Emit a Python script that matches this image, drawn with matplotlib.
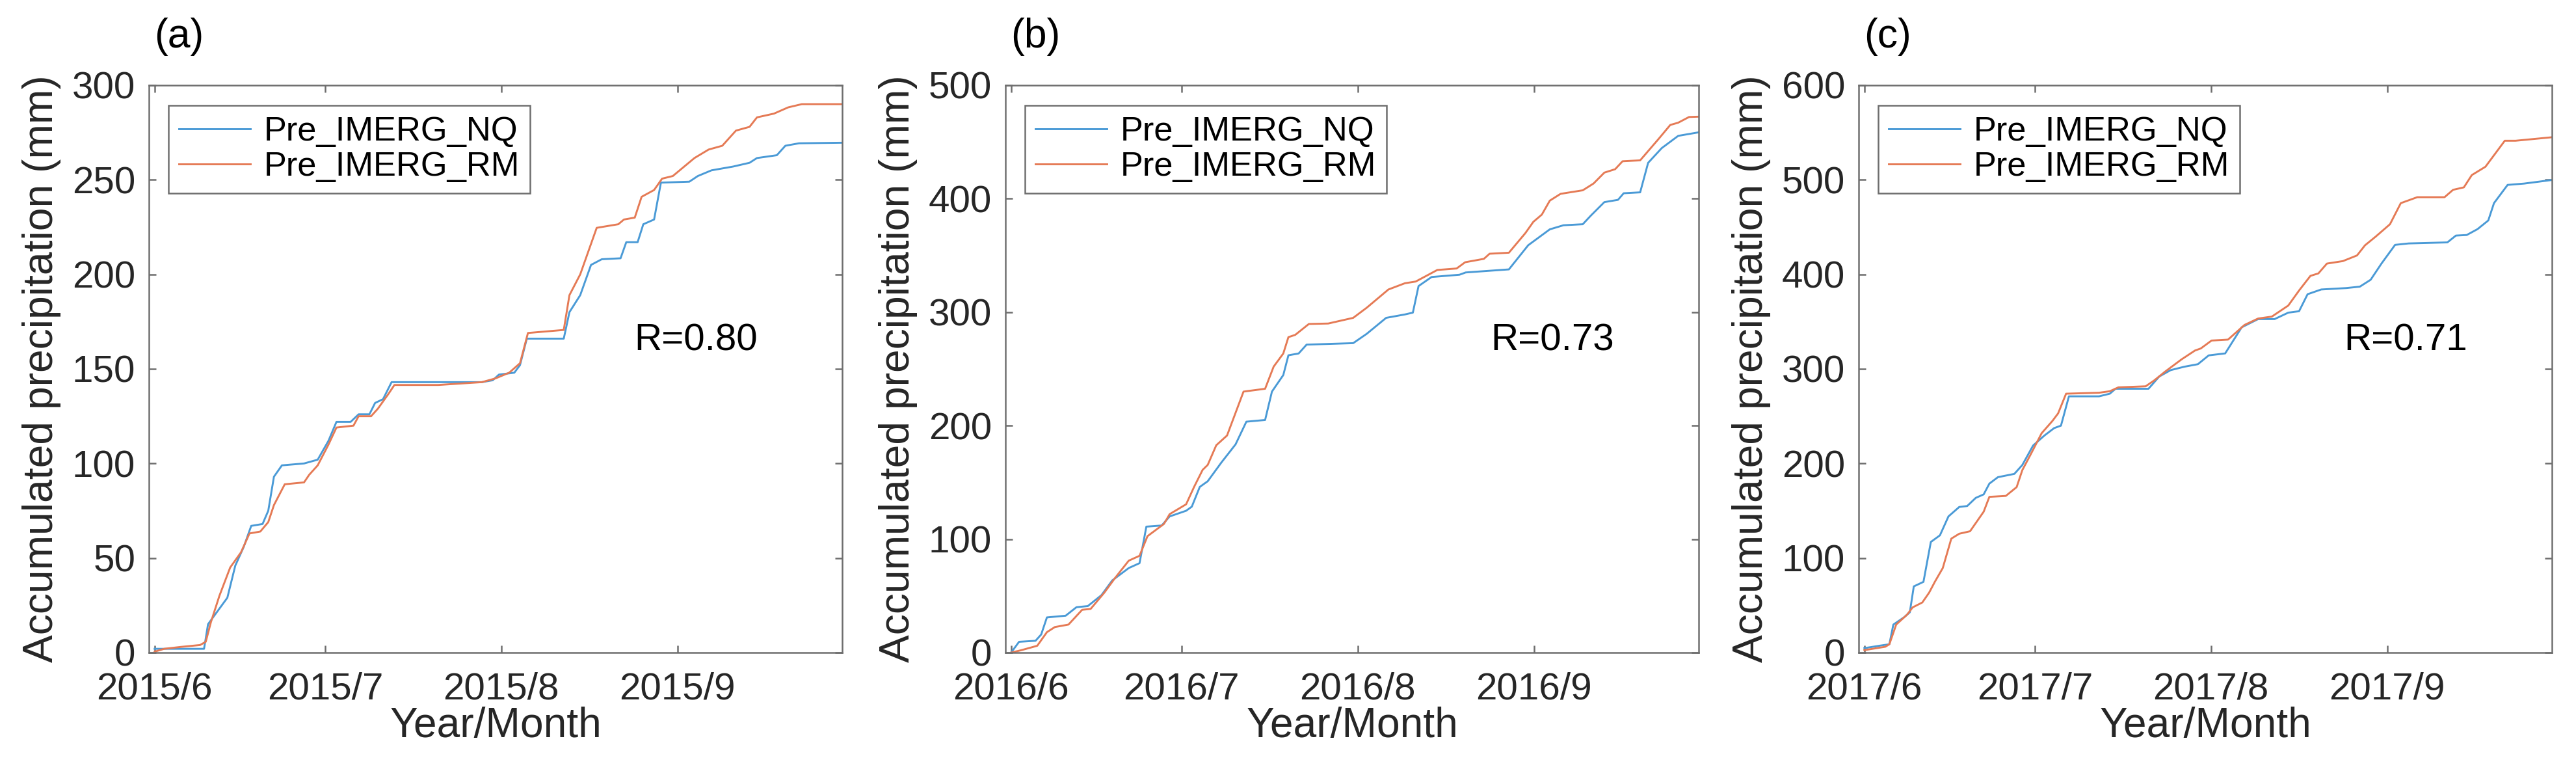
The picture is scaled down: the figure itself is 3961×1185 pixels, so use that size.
import numpy as np
import pandas as pd
import matplotlib
matplotlib.use("Agg")
import matplotlib.pyplot as plt

plt.rcParams['font.family'] = ['Liberation Sans', 'DejaVu Sans']

# day offsets from June 1 and accumulated precipitation (mm)
years = [2015, 2016, 2017]
panel_tags = ['(a)', '(b)', '(c)']
r_text = ['R=0.80', 'R=0.73', 'R=0.71']
y_max = [300, 500, 600]
y_step = [50, 100, 100]

nq_days_2015 = [0, 8.7, 9.4, 12.8, 14.2, 15.7, 17, 19, 20, 21, 22.4, 26.3, 28.7, 30.6, 32, 34.5, 35.9,
                37.8, 38.8, 40.2, 41.7, 49.9, 57.6, 59.5, 60.6, 63.3, 64.3, 65.5, 72, 73, 74.9, 76.8,
                78.7, 82, 83, 85, 86, 87.9, 89.1, 94.1, 95.6, 98, 101.8, 104.7, 106, 109.5, 111, 113.4, 121]
nq_vals_2015 = [2, 2, 15, 29, 46, 56, 67, 68, 75, 93, 99, 100, 102, 112, 122, 122, 126,
                126, 132, 134, 143, 143, 143, 144, 147, 148, 152, 166, 166, 180, 189, 205,
                208, 208.5, 217, 217, 226.5, 229, 248.5, 249, 252, 255, 257, 259, 261.5, 263, 268, 269.3, 269.6]
rm_days_2015 = [0, 1.7, 4.6, 8, 9, 9.9, 11.4, 13.3, 15.2, 16.7, 18.6, 20, 21, 22.9, 26.3, 27.2, 28.7,
                30.6, 32, 35, 35.9, 38.1, 39.3, 41.2, 42.2, 49.9, 57.6, 60, 62.4, 64.3, 65.7, 72, 73,
                74.9, 77.8, 81.6, 82.6, 84.5, 85.7, 87.9, 89.3, 91.2, 95, 97.5, 99.9, 102.3, 104.7,
                106, 109, 111.5, 113.9, 121]
rm_vals_2015 = [0.5, 2, 3, 4, 5.7, 16, 30, 45, 53, 63, 64, 69, 78, 89, 90, 94, 99,
                110, 119, 120, 125, 125, 129, 137, 141.5, 141.5, 143, 145, 148, 153, 169, 170.6, 189,
                200, 224.6, 226.5, 229, 230, 241, 244.6, 250.6, 252, 261.5, 266, 268, 276, 278,
                283, 285, 288.3, 290, 290]

nq_days_2016 = [0, 1.4, 4.3, 5.3, 6.3, 9.6, 11.5, 13.5, 15.9, 17.8, 20.7, 22.6, 23.8, 26.5, 27.9, 30.8,
                31.8, 33.2, 34.6, 37, 39.5, 41.4, 44.7, 45.9, 47.9, 48.8, 50.6, 52, 60.2, 62.6, 66,
                69.3, 70.7, 71.7, 74, 78.9, 80, 87.6, 91, 94.8, 97.2, 100.6, 102, 104.4, 106.8, 107.8,
                110.7, 112.1, 114.5, 117.4, 121]
nq_vals_2016 = [0, 9.5, 10.4, 16, 31, 32.5, 40, 41, 50.6, 63.6, 74.5, 78.8, 111, 112, 120, 125,
                128.6, 146, 151, 167.5, 183.5, 203.5, 205, 230, 244.6, 262, 263.6, 271.4, 272.7, 281, 295,
                298, 299.6, 323, 331, 333, 335, 337.7, 359, 373, 376.6, 377.5, 385, 397, 399, 404.8,
                405.6, 431.6, 444.6, 455.4, 458.5]
rm_days_2016 = [0, 1.7, 4.6, 6.3, 7.7, 10.1, 12.5, 14, 16.4, 18.3, 20.7, 22.6, 24, 26.9, 27.9, 30.8,
                32.2, 33.7, 34.6, 36.1, 38, 40.9, 44.7, 46.2, 47.9, 48.8, 50, 52.4, 55.8, 60.2, 62.6,
                66.4, 69.3, 71.2, 75, 78.4, 79.9, 83.2, 84.2, 87.6, 90.5, 91.9, 93.4, 94.8, 96.7,
                100.6, 102.5, 104.4, 106.3, 107.6, 110.7, 114, 116, 117.4, 119.3, 121]
rm_vals_2016 = [0, 2, 6, 18, 22.5, 24.7, 37.7, 38.5, 52.8, 65.8, 81, 85.3, 102.6, 113.4, 122, 130.7,
                146, 161, 165.4, 182.7, 191.3, 230, 232.5, 252, 263.6, 278, 280, 289.6, 290, 295, 304,
                320, 325.5, 327, 337.2, 338.5, 344, 347, 351.5, 352.4, 369.7, 379.6, 386, 398.3, 404.3,
                407.4, 413.4, 423, 426, 433, 433.8, 453, 465, 467, 472, 472.3]

nq_days_2017 = [0, 2.7, 4.4, 5.1, 7, 8, 8.7, 10.4, 11.7, 13.3, 14.8, 16.7, 18.1, 19.6, 21, 22, 23.5,
                26.4, 27.8, 29.7, 31.7, 33.4, 34.6, 36, 41.3, 43.2, 44.2, 50, 51.9, 53.9, 56.3, 58.7,
                60.6, 63.5, 66.4, 69.3, 72.2, 74.6, 76.5, 78, 80.4, 84.8, 87.2, 89.1, 91, 93.4, 95.8,
                102.6, 104.1, 106, 107.9, 109.8, 110.8, 113.2, 116.1, 121]
nq_vals_2017 = [4.7, 7.3, 8.8, 29.6, 37.4, 42.6, 70, 74.8, 117, 124, 144, 154, 155, 163.6, 167.3, 178.7, 185.5,
                189, 198.4, 219, 229.6, 237.4, 240, 271, 271, 273.8, 279, 279, 292, 298.7, 302.3, 305,
                314.3, 316.4, 344, 352.7, 352.7, 359.5, 361, 379, 384, 385.5, 387, 394.3, 411.4, 431.2, 432.7,
                433.8, 441, 441.6, 447.8, 457, 475.3, 494.6, 496, 499.8]
rm_days_2017 = [0, 3.7, 4.4, 5.6, 7.5, 8.5, 10.2, 11.4, 12.4, 13.8, 15.3, 16.7, 18.6, 21, 22, 24.9, 26.8,
                27.8, 29.2, 31.2, 33.1, 34.1, 35.5, 41.3, 43.2, 44.7, 49.5, 51, 52.9, 55.8, 58.2, 59.2,
                61.1, 64, 66.9, 69.3, 71.7, 74.6, 76.5, 78.5, 79.9, 81.4, 84.2, 86.7, 88.1, 90, 92.5,
                94.4, 97.3, 102.1, 103.6, 105.5, 106.9, 109.3, 112.7, 114.6, 121]
rm_vals_2017 = [2.6, 6.2, 8.8, 29.6, 40, 47.8, 53, 63.4, 74.8, 89.4, 120.5, 125.7, 128.3, 149, 164.7, 165.7, 175,
                193, 208.8, 232, 245, 253, 273.8, 274.8, 276.4, 280.5, 281.6, 287.8, 297, 310, 319.5, 321.6,
                330, 331, 346.5, 353.3, 355.3, 367, 382.9, 398.4, 401, 411.4, 414, 420, 430.7, 440, 453,
                475.3, 481.6, 481.6, 489.4, 492, 505, 513.8, 541.3, 541.3, 545]

nq_days = [nq_days_2015, nq_days_2016, nq_days_2017]
nq_vals = [nq_vals_2015, nq_vals_2016, nq_vals_2017]
rm_days = [rm_days_2015, rm_days_2016, rm_days_2017]
rm_vals = [rm_vals_2015, rm_vals_2016, rm_vals_2017]

c_nq = '#4A9AD6'
c_rm = '#E57A55'
c_axis = '#6E6E6E'

fig = plt.figure(figsize=(3961 / 300, 1185 / 300), dpi=300)
lefts = [229 / 3961, 1546 / 3961, 2858 / 3961]
w = 1066 / 3961
b = (1185 - 1003) / 1185
h = 872 / 1185

for i in range(3):
    ax = fig.add_axes([lefts[i], b, w, h])
    start = pd.Timestamp(years[i], 6, 1)
    t_nq = start + pd.to_timedelta(nq_days[i], unit='D')
    t_rm = start + pd.to_timedelta(rm_days[i], unit='D')
    ax.plot(t_nq, nq_vals[i], color=c_nq, lw=0.7, label='Pre_IMERG_NQ')
    ax.plot(t_rm, rm_vals[i], color=c_rm, lw=0.7, label='Pre_IMERG_RM')

    ax.set_xlim(pd.Timestamp(years[i], 5, 31), pd.Timestamp(years[i], 9, 30))
    ax.set_ylim(0, y_max[i])
    ax.set_yticks(np.arange(0, y_max[i] + 1, y_step[i]))
    months = [pd.Timestamp(years[i], m, 1) for m in range(6, 10)]
    ax.set_xticks(months)
    ax.set_xticklabels(['%d/%d' % (years[i], m) for m in range(6, 10)])

    for s in ax.spines.values():
        s.set_color(c_axis)
        s.set_linewidth(0.6)
    ax.tick_params(direction='in', length=2.6, width=0.6, color=c_axis,
                   top=True, right=True, labelsize=14, labelcolor='#262626')
    ax.tick_params(axis='y', pad=5)
    ax.tick_params(axis='x', pad=7)

    ax.set_xlabel('Year/Month', fontsize=15.4, color='#262626', labelpad=0)
    ax.set_ylabel('Accumulated precipitation (mm)', fontsize=15.4, color='#262626', labelpad=4)

    leg = ax.legend(loc='upper left', bbox_to_anchor=(0.028, 0.964), borderaxespad=0,
                    fontsize=12.6, frameon=True, fancybox=False, framealpha=1,
                    edgecolor=c_axis, handlelength=2.1, handletextpad=0.4,
                    borderpad=0.3, labelspacing=0.1)
    leg.get_frame().set_linewidth(0.6)

    ax.text(0.70, 0.55, r_text[i], transform=ax.transAxes, fontsize=14,
            va='center', ha='left', color='black')
    ax.text(0.008, 1.085, panel_tags[i], transform=ax.transAxes, fontsize=15,
            va='center', ha='left', color='black')

fig.savefig('out.png', dpi=300)
